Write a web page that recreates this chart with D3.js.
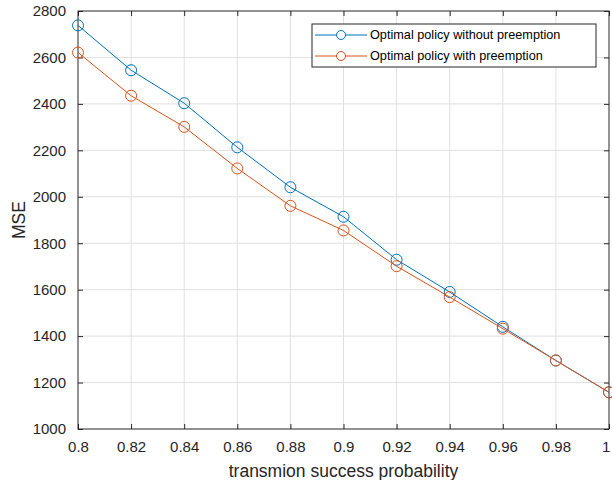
<!DOCTYPE html>
<html>
<head>
<meta charset="utf-8">
<script src="https://cdn.jsdelivr.net/npm/d3@7"></script>
<style>
  body { margin: 0; background: #fff; }
  svg { font-family: "Liberation Sans", Arial, sans-serif; }
</style>
</head>
<body>
<div id="chart"></div>
<script>
const probs = [0.8, 0.82, 0.84, 0.86, 0.88, 0.9, 0.92, 0.94, 0.96, 0.98, 1];
const withoutPreemption = [2738, 2545, 2403, 2213, 2041, 1914, 1729, 1590, 1440, 1295, 1158];
const withPreemption = [2621, 2435, 2301, 2122, 1961, 1855, 1701, 1568, 1432, 1295, 1158];
const xTicks = [0.8, 0.82, 0.84, 0.86, 0.88, 0.9, 0.92, 0.94, 0.96, 0.98, 1];
const yTicks = [1000, 1200, 1400, 1600, 1800, 2000, 2200, 2400, 2600, 2800];
const seriesNames = ['Optimal policy without preemption', 'Optimal policy with preemption'];

const width = 612, height = 480;
const margin = { top: 11, right: 3, bottom: 51, left: 78 };
const axisColor = '#262626';

const series = [
  { name: seriesNames[0], values: withoutPreemption, color: '#0072BD' },
  { name: seriesNames[1], values: withPreemption, color: '#D95319' }
];

const x = d3.scaleLinear().domain([0.8, 1]).range([margin.left, width - margin.right]);
const y = d3.scaleLinear().domain([1000, 2800]).range([height - margin.bottom, margin.top]);

const svg = d3.select('#chart').append('svg')
  .attr('width', width)
  .attr('height', height);

// grid
svg.append('g')
  .selectAll('line')
  .data(xTicks.slice(1, -1))
  .join('line')
  .attr('x1', d => x(d)).attr('x2', d => x(d))
  .attr('y1', y(1000)).attr('y2', y(2800))
  .attr('stroke', '#e0e0e0').attr('stroke-width', 1);

svg.append('g')
  .selectAll('line')
  .data(yTicks.slice(1, -1))
  .join('line')
  .attr('x1', x(0.8)).attr('x2', x(1))
  .attr('y1', d => y(d)).attr('y2', d => y(d))
  .attr('stroke', '#e0e0e0').attr('stroke-width', 1);

// axes (ticks inside, mirrored)
const tickLen = 5;
const fmtX = d => String(+d.toFixed(2));
const fmtY = d => String(d);

svg.append('g')
  .attr('transform', `translate(0,${y(1000)})`)
  .call(d3.axisBottom(x).tickValues(xTicks).tickSize(-tickLen).tickPadding(12).tickFormat(fmtX))
  .call(g => g.select('.domain').remove())
  // last label sits at the right edge of the figure, keep it inside
  .call(g => g.selectAll('.tick text').filter(d => d === 1).attr('text-anchor', 'end').attr('dx', '0.05em'));

svg.append('g')
  .attr('transform', `translate(0,${y(2800)})`)
  .call(d3.axisTop(x).tickValues(xTicks).tickSize(-tickLen).tickFormat(''))
  .call(g => g.select('.domain').remove());

svg.append('g')
  .attr('transform', `translate(${x(0.8)},0)`)
  .call(d3.axisLeft(y).tickValues(yTicks).tickSize(-tickLen).tickPadding(12).tickFormat(fmtY))
  .call(g => g.select('.domain').remove());

svg.append('g')
  .attr('transform', `translate(${x(1)},0)`)
  .call(d3.axisRight(y).tickValues(yTicks).tickSize(-tickLen).tickFormat(''))
  .call(g => g.select('.domain').remove());

svg.selectAll('.tick line').attr('stroke', axisColor);
svg.selectAll('.tick text')
  .attr('fill', axisColor)
  .style('font-size', '15px')
  .style('font-family', '"Liberation Sans", Arial, sans-serif');

// box
svg.append('rect')
  .attr('x', x(0.8)).attr('y', y(2800))
  .attr('width', x(1) - x(0.8)).attr('height', y(1000) - y(2800))
  .attr('fill', 'none').attr('stroke', axisColor).attr('stroke-width', 1);

// lines and markers
const line = d3.line()
  .x((d, i) => x(probs[i]))
  .y(d => y(d));

series.forEach(s => {
  svg.append('path')
    .datum(s.values)
    .attr('d', line)
    .attr('fill', 'none')
    .attr('stroke', s.color)
    .attr('stroke-width', 1);

  svg.append('g')
    .selectAll('circle')
    .data(s.values)
    .join('circle')
    .attr('cx', (d, i) => x(probs[i]))
    .attr('cy', d => y(d))
    .attr('r', 5.5)
    .attr('fill', 'none')
    .attr('stroke', s.color)
    .attr('stroke-width', 1);
});

// labels
svg.append('text')
  .attr('x', (x(0.8) + x(1)) / 2)
  .attr('y', 477)
  .attr('text-anchor', 'middle')
  .attr('fill', axisColor)
  .style('font-size', '17.5px')
  .text('transmion success probability');

svg.append('text')
  .attr('transform', `translate(25,${(y(1000) + y(2800)) / 2}) rotate(-90)`)
  .attr('text-anchor', 'middle')
  .attr('fill', axisColor)
  .style('font-size', '17.5px')
  .text('MSE');

// legend
const legend = svg.append('g').attr('transform', 'translate(312,24)');
legend.append('rect')
  .attr('width', 284).attr('height', 43)
  .attr('fill', '#fff').attr('stroke', axisColor).attr('stroke-width', 1);

const rows = legend.selectAll('g.row')
  .data(series)
  .join('g')
  .attr('class', 'row')
  .attr('transform', (d, i) => `translate(0,${11 + i * 21})`);

rows.append('line')
  .attr('x1', 3).attr('x2', 55)
  .attr('stroke', d => d.color).attr('stroke-width', 1);
rows.append('circle')
  .attr('cx', 29).attr('r', 4.5)
  .attr('fill', '#fff')
  .attr('stroke', d => d.color);
rows.append('text')
  .attr('x', 58).attr('dy', '0.35em')
  .attr('fill', '#000')
  .style('font-size', '12.7px')
  .text(d => d.name);
</script>
</body>
</html>
